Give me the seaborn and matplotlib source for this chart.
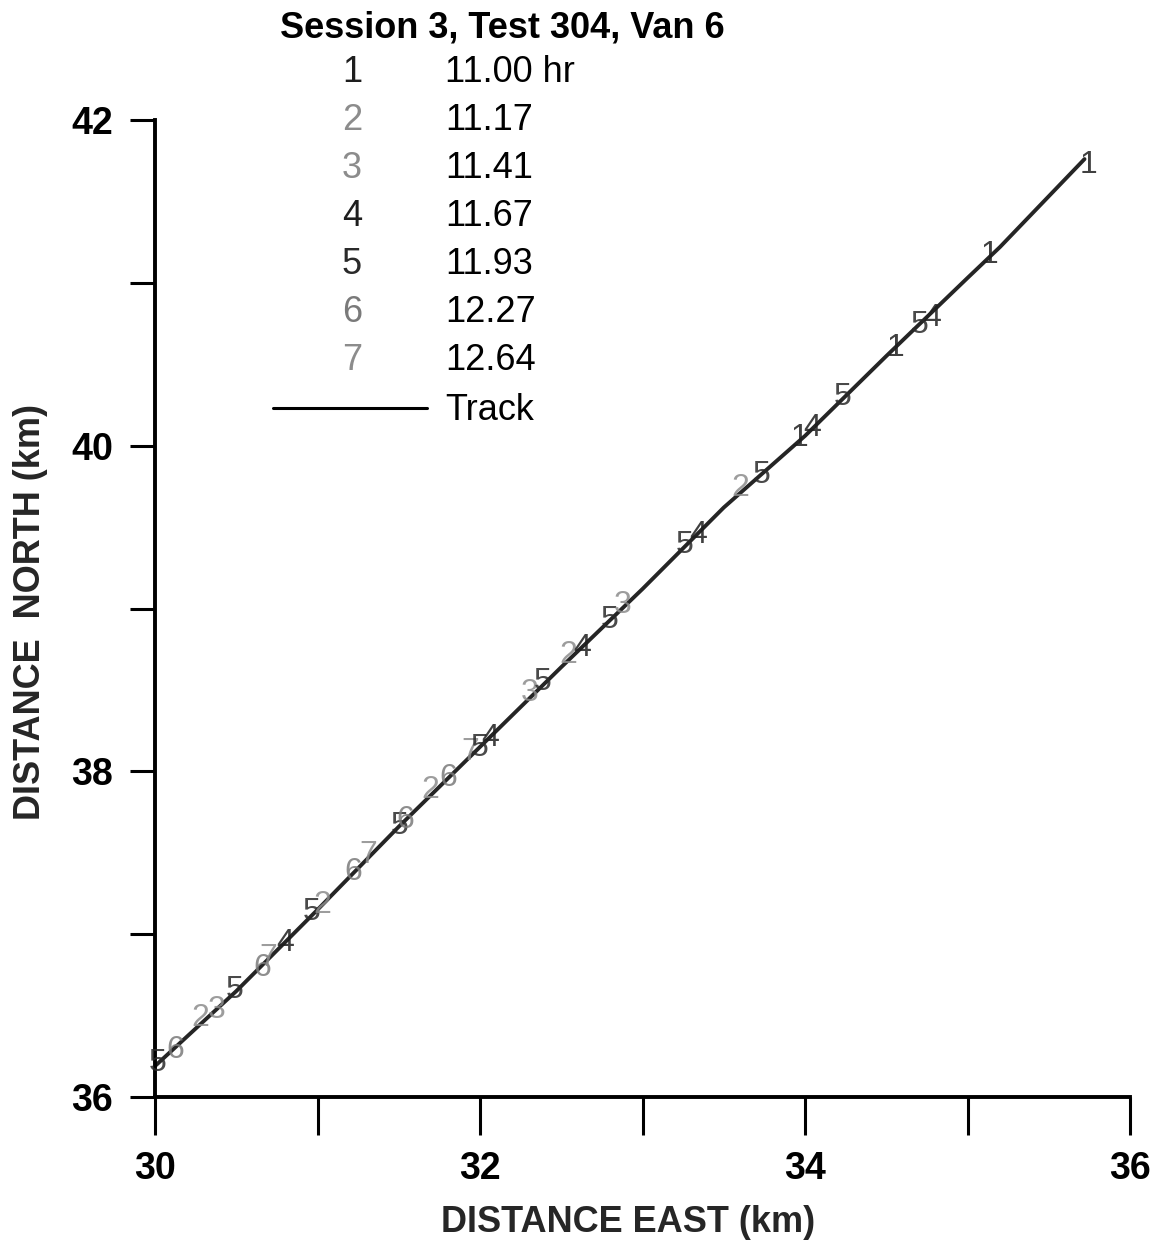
import numpy as np
import pandas as pd
import matplotlib
matplotlib.use("Agg")
import matplotlib.pyplot as plt
import seaborn as sns
from matplotlib.lines import Line2D

# ---- data ----
track_east = [30.0, 30.5, 31.0, 31.5, 32.0, 32.5, 33.0, 33.5, 34.0, 34.5, 35.0, 35.2, 35.72]
track_north = [36.19, 36.65, 37.15, 37.66, 38.15, 38.64, 39.12, 39.62, 40.06, 40.55, 41.03, 41.22, 41.76]

fix_east = [30.018, 30.123, 30.277, 30.382, 30.492, 30.658, 30.695, 30.800, 30.966, 31.028,
            31.218, 31.311, 31.508, 31.538, 31.692, 31.803, 31.938, 32.000, 32.062, 32.308,
            32.388, 32.542, 32.628, 32.800, 32.880, 33.262, 33.342, 33.600, 33.735, 33.969,
            34.043, 34.234, 34.554, 34.708, 34.782, 35.138, 35.742]
fix_north = [36.209, 36.289, 36.485, 36.534, 36.657, 36.792, 36.854, 36.946, 37.136, 37.179,
             37.382, 37.486, 37.665, 37.701, 37.886, 37.959, 38.119, 38.144, 38.205, 38.482,
             38.549, 38.715, 38.758, 38.930, 39.022, 39.391, 39.452, 39.741, 39.821, 40.048,
             40.109, 40.300, 40.601, 40.742, 40.785, 41.172, 41.725]
fix_label = ['5', '6', '2', '3', '5', '6', '7', '4', '5', '2',
             '6', '7', '5', '6', '2', '6', '7', '5', '4', '3',
             '5', '2', '4', '5', '3', '5', '4', '2', '5', '1',
             '4', '5', '1', '5', '4', '1', '1']

legend_digits = ['1', '2', '3', '4', '5', '6', '7']
legend_times = ['11.00 hr', '11.17', '11.41', '11.67', '11.93', '12.27', '12.64']
legend_title = 'Session 3, Test 304, Van 6'

x_ticks = [30, 31, 32, 33, 34, 35, 36]
x_ticklabels = ['30', '', '32', '', '34', '', '36']
y_ticks = [36, 37, 38, 39, 40, 41, 42]
y_ticklabels = ['36', '', '38', '', '40', '', '42']

# ---- style ----
sns.set_style("ticks")
plt.rcParams['font.family'] = ['Liberation Sans', 'DejaVu Sans']

digit_color = {'1': '#1e1e1e', '4': '#1e1e1e', '5': '#2a2a2a',
               '2': '#8c8c8c', '3': '#8c8c8c', '6': '#7a7a7a', '7': '#8c8c8c'}

W, H = 1159, 1247
fig = plt.figure(figsize=(W / 100, H / 100), dpi=100)
ax = fig.add_axes([155 / W, 1 - 1097 / H, (1130 - 155) / W, (1097 - 120) / H])

df = pd.DataFrame({'east': track_east, 'north': track_north})
sns.lineplot(data=df, x='east', y='north', ax=ax, color='#252525', lw=2.8,
             sort=False, estimator=None, legend=False)

for xe, yn, d in zip(fix_east, fix_north, fix_label):
    ax.text(xe, yn, d, ha='center', va='center', fontsize=23,
            color=digit_color[d], alpha=0.85, zorder=3)

ax.set_xlim(30, 36)
ax.set_ylim(36, 42)
ax.set_xticks(x_ticks)
ax.set_xticklabels(x_ticklabels)
ax.set_yticks(y_ticks)
ax.set_yticklabels(y_ticklabels)
for lab in ax.get_xticklabels() + ax.get_yticklabels():
    lab.set_fontweight('bold')
    lab.set_fontsize(27)
ax.tick_params(axis='x', direction='out', length=27, width=2.2, pad=12, colors='black')
ax.tick_params(axis='y', direction='out', length=18, width=2.2, pad=12, colors='black')
sns.despine(ax=ax)
for s in ('left', 'bottom'):
    ax.spines[s].set_linewidth(2.8)
    ax.spines[s].set_color('black')

ax.set_xlabel('DISTANCE EAST (km)', fontweight='bold', fontsize=26)
ax.set_ylabel('DISTANCE  NORTH (km)', fontweight='bold', fontsize=26)
ax.xaxis.set_label_coords((628 - 155) / 975, (1097 - 1222) / 977)
ax.yaxis.set_label_coords((30 - 155) / 975, (1097 - 612) / 977)
ax.xaxis.label.set_va('center')
ax.yaxis.label.set_va('center')

# ---- legend (text table) ----
fig.text(502 / W, 1 - 28 / H, legend_title, ha='center', va='center',
         fontsize=26, fontweight='bold', color='black')
row_y = [72, 120, 168, 216, 265, 313, 361]
for ry, d, t in zip(row_y, legend_digits, legend_times):
    fig.text(352 / W, 1 - ry / H, d, ha='center', va='center', fontsize=26,
             color=digit_color[d])
    fig.text(445 / W, 1 - ry / H, t, ha='left', va='center', fontsize=26, color='black')
fig.add_artist(Line2D([273 / W, 427 / W], [1 - 408 / H, 1 - 408 / H],
                      color='black', lw=2.2, transform=fig.transFigure))
fig.text(445 / W, 1 - 410 / H, 'Track', ha='left', va='center', fontsize=26, color='black')

fig.savefig('out.png', dpi=100)
